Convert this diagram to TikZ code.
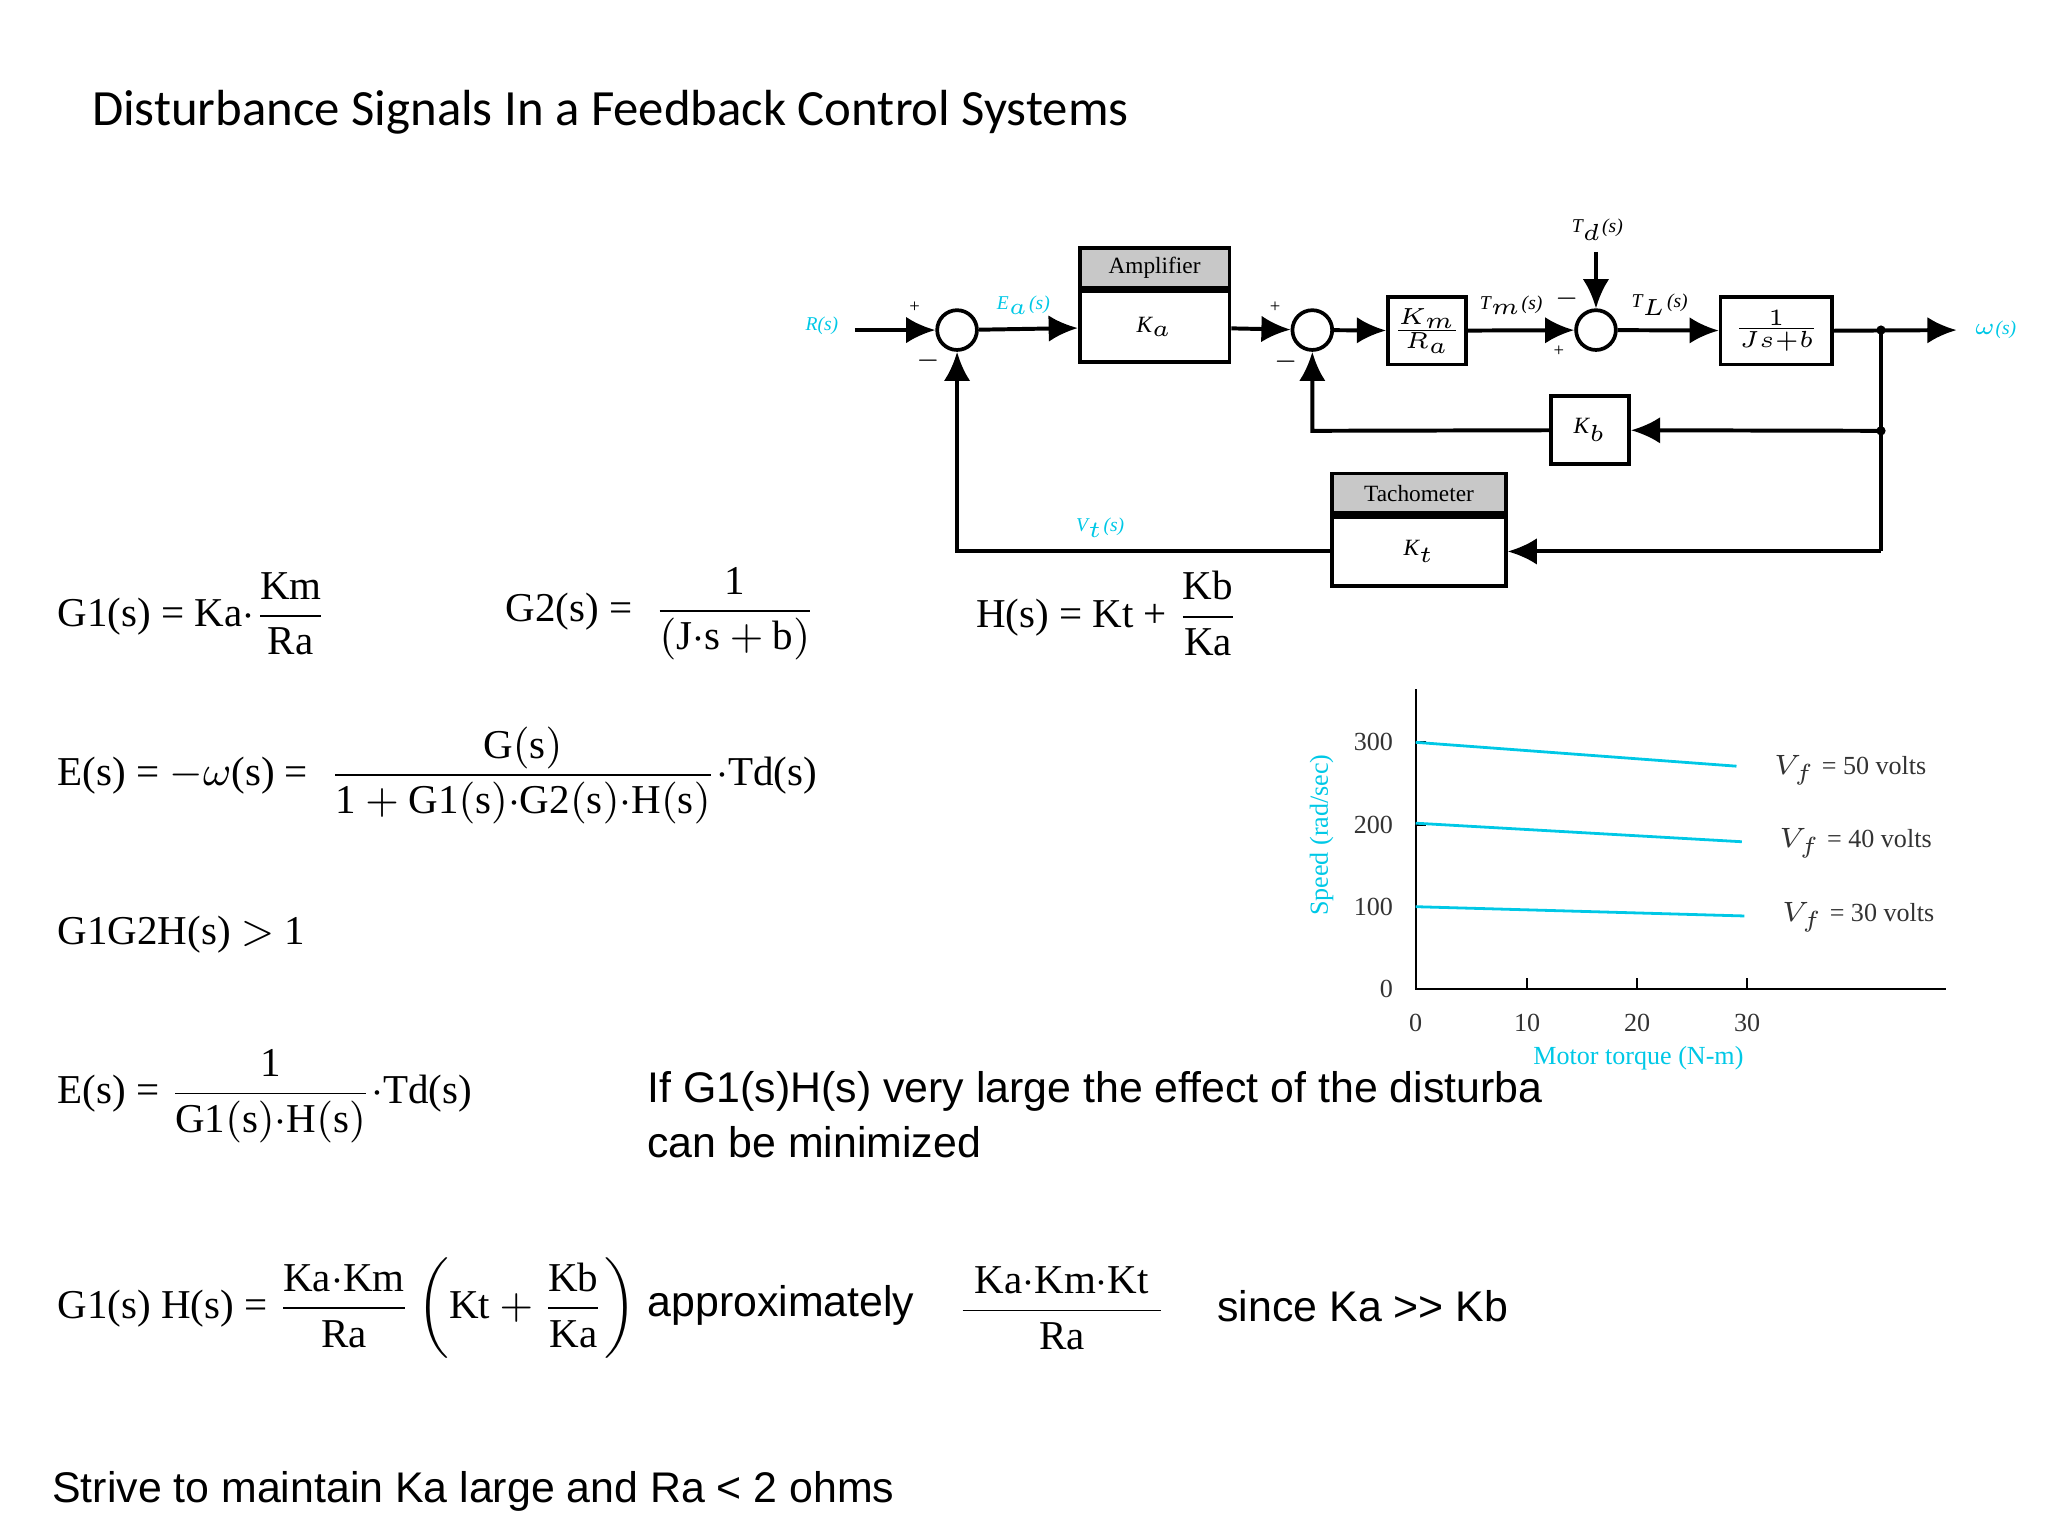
\documentclass[tikz,border=0pt]{standalone}
\usepackage{fontspec}
\usepackage{amsmath}
\setmainfont{Liberation Serif}
\newfontfamily\sansA{Liberation Sans}
\newfontfamily\sansB{Carlito}
\usetikzlibrary{arrows.meta,positioning}
\definecolor{sigcyan}{RGB}{0,200,230}
\definecolor{hdrgray}{RGB}{200,200,200}
\newcommand{\md}{\mathord{\cdot}}

\begin{document}
\begin{tikzpicture}[x=0.1mm, y=-0.1mm,
  line width=0.85pt,
  blk/.style={draw, thick, fill=white, inner sep=0pt, font=\fontsize{5}{6}\selectfont\itshape},
  hdr/.style={draw, thick, fill=hdrgray, inner sep=0pt, font=\fontsize{5}{6}\selectfont},
  sumj/.style={draw, thick, circle, minimum size=3mm, inner sep=0pt},
  sig/.style={font=\fontsize{4.2}{5}\selectfont\itshape, text=sigcyan},
  lbl/.style={font=\fontsize{4.2}{5}\selectfont\itshape},
  pm/.style={font=\fontsize{4}{5}\selectfont},
  flow/.style={-{Latex[length=2.2mm,width=2mm]}},
  eq/.style={anchor=west, font=\fontsize{8.8}{11}\selectfont, inner sep=0pt},
  txt/.style={anchor=west, font=\sansA\fontsize{9.2}{11}\selectfont, inner sep=0pt},
  tick/.style={font=\fontsize{5.6}{7}\selectfont, text=black!80},
  curve/.style={sigcyan, line width=0.6pt}]
\useasboundingbox (0,0) rectangle (1545,1159);

% title
\node[anchor=west, inner sep=0pt, font=\sansB\fontsize{10.9}{12}\selectfont] (title) at (68,85) {Disturbance Signals In a Feedback Control Systems};

% block diagram
\node[sig] (rin) at (620,246) {R(s)};
\node[sumj] (sumA) at (722,249) {};
\node[blk, minimum width=11.3mm, minimum height=5.3mm] (amp) at (871,246.5) {K$_a$};
\node[hdr, minimum width=11.3mm, minimum height=3mm, above=0pt of amp] (ampH) {Amplifier};
\node[sumj] (sumB) at (990,249) {};
\node[blk, minimum width=5.9mm, minimum height=5.1mm] (kmra) at (1076.5,249.5) {$\frac{K_m}{R_a}$};
\node[sumj] (sumC) at (1204,249) {};
\node[blk, minimum width=8.4mm, minimum height=5.1mm] (plant) at (1340,249.5) {$\frac{1}{Js+b}$};
\coordinate (branch) at (1419,249);
\node[sig, anchor=west] (wout) at (1476,249) {$\omega$(s)};
\node[blk, minimum width=5.9mm, minimum height=5.1mm] (kb) at (1199.5,324.5) {K$_b$};
\node[blk, minimum width=13.1mm, minimum height=5.2mm] (tach) at (1070.5,416) {K$_t$};
\node[hdr, minimum width=13.1mm, minimum height=3mm, above=0pt of tach] (tachH) {Tachometer};
\node[lbl] (td) at (1205,173) {T$_d$(s)};
\coordinate (tdtop) at (1204,190);
\coordinate (kbR) at (1419,325);
\coordinate (kbL) at (990,325);
\coordinate (tR) at (1419,416);
\coordinate (tL) at (722,416);

\draw[flow] (645,249) -- (sumA);
\draw[flow] (sumA) -- (amp);
\draw[flow] (amp) -- (sumB);
\draw[flow] (sumB) -- (kmra);
\draw[flow] (kmra) -- (sumC);
\draw[flow] (sumC) -- (plant);
\draw[flow] (plant.east) -- (wout.west);
\draw[flow] (tdtop) -- (sumC);
\draw (branch) -- (tR);
\fill (branch) circle (3.5) (kbR) circle (3.5);
\draw[flow] (kbR) -- (kb);
\draw[flow] (kb) -- (kbL) -- (sumB);
\draw[flow] (tR) -- (tach);
\draw[flow] (tach) -- (tL) -- (sumA);

\node[pm] at (690,232) {+};
\node[pm] at (700,272) {$-$};
\node[pm] at (962,232) {+};
\node[pm] at (970,273) {$-$};
\node[pm] at (1182,225) {$-$};
\node[pm] at (1176,265) {+};
\node[sig] at (772,230) {E$_a$(s)};
\node[lbl] at (1140,230) {T$_m$(s)};
\node[lbl] at (1252,230) {T$_L$(s)};
\node[sig] at (830,398) {V$_t$(s)};

% equations
\node[eq] (eqG1) at (42,463) {G1(s) = Ka$\md\dfrac{\mathrm{Km}}{\mathrm{Ra}}$};
\node[eq] (eqG2) at (380,463) {G2(s) = \;$\dfrac{\mathrm{1}}{\mathrm{(J{\md}s + b)}}$};
\node[eq] (eqH) at (735,463) {H(s) = Kt + $\dfrac{\mathrm{Kb}}{\mathrm{Ka}}$};
\node[eq] (eqE) at (42,585) {E(s) = $-\omega$(s) = \;$\dfrac{\mathrm{G(s)}}{\mathrm{1 + G1(s){\md}G2(s){\md}H(s)}}\md$Td(s)};
\node[eq] (eqGGH) at (42,705) {G1G2H(s) $>$ 1};
\node[eq] (eqE2) at (42,827) {E(s) = $\dfrac{\mathrm{\qquad 1\qquad}}{\mathrm{G1(s){\md}H(s)}}\md$Td(s)};
\node[eq] (eqGH) at (42,987) {G1(s) H(s) = $\dfrac{\mathrm{Ka{\md}Km}}{\mathrm{Ra}}\left(\mathrm{Kt} + \dfrac{\mathrm{Kb}}{\mathrm{Ka}}\right)$};
\node[eq, anchor=center] (eqApx) at (801,987) {$\dfrac{\;\mathrm{Ka{\md}Km{\md}Kt}\;}{\mathrm{Ra}}$};

% sans text
\begin{scope}
  \clip (480,790) rectangle (1163,845);
  \node[txt] (ifs) at (487,823) {If G1(s)H(s) very large the effect of the disturbance};
\end{scope}
\node[txt] (minz) at (487,862) {can be minimized};
\node[txt] (approx) at (487,985) {approximately};
\node[txt] (since) at (917,985) {since Ka >> Kb};
\node[txt] (strive) at (38,1125) {Strive to maintain Ka large and Ra < 2 ohms};

% plot
\draw[line width=0.5pt] (1068,520) -- (1068,746) -- (1468,746);
\foreach \v/\y in {0/746,100/684,200/622,300/560} {
  \draw[line width=0.5pt] (1068,\y) -- ++(8,0);
  \node[tick, anchor=east] at (1064,\y) {\v};
}
\foreach \v/\x in {0/1068,10/1152,20/1235,30/1318} {
  \draw[line width=0.5pt] (\x,746) -- ++(0,-8);
  \node[tick, anchor=north] at (\x,752) {\v};
}
\draw[curve] (1068,560) -- (1310,578);
\draw[curve] (1068,621) -- (1314,635);
\draw[curve] (1068,684) -- (1316,691);
\node[tick, anchor=west] at (1325,581) {$V_f$ = 50 volts};
\node[tick, anchor=west] at (1329,636) {$V_f$ = 40 volts};
\node[tick, anchor=west] at (1331,692) {$V_f$ = 30 volts};
\node[tick, text=sigcyan, rotate=90] at (997,630) {Speed (rad/sec)};
\node[tick, text=sigcyan] at (1236,798) {Motor torque (N-m)};
\end{tikzpicture}
\end{document}
